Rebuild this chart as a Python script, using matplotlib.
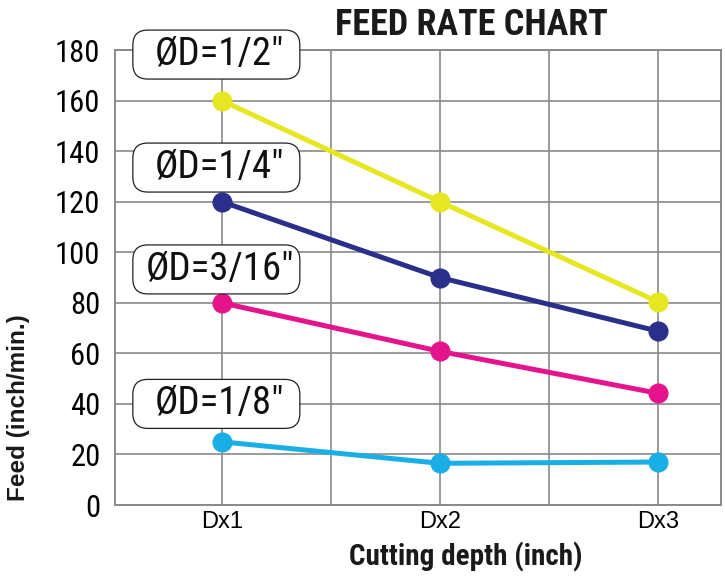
import matplotlib
matplotlib.use("Agg")
import matplotlib.pyplot as plt
from matplotlib.patches import FancyBboxPatch
from matplotlib.transforms import ScaledTranslation

# Data
depths = ["Dx1", "Dx2", "Dx3"]
feed_half = [160, 120, 80.4]
feed_quarter = [120, 90, 68.8]
feed_3_16 = [80, 60.8, 44.2]
feed_eighth = [25, 16.5, 17]

labels = ['ØD=1/2"', 'ØD=1/4"', 'ØD=3/16"', 'ØD=1/8"']
y_ticks = [0, 20, 40, 60, 80, 100, 120, 140, 160, 180]

# Styling
colors = ["#E6E622", "#2B2F8C", "#E6148C", "#19AFE6"]
label_pos = [(-0.025, 178.2), (-0.025, 133.5), (-0.025, 93.2), (-0.025, 40.0)]
grid_color = "#8A8A8A"
narrow = ["Roboto Condensed", "DejaVu Sans"]
regular = ["Liberation Sans", "DejaVu Sans"]

fig = plt.figure(figsize=(7.25, 5.79), dpi=100)
ax = fig.add_axes([0.1586, 0.1278, 0.8359, 0.7858])

series = [feed_half, feed_quarter, feed_3_16, feed_eighth]
xs = list(range(len(depths)))
for vals, c in zip(series, colors):
    ax.plot(xs, vals, color=c, lw=3.6, marker="o", ms=13.5, zorder=3,
            solid_capstyle="round")

ax.set_xlim(-0.49, 2.29)
ax.set_ylim(0, 180)
ax.set_xticks(xs)
ax.set_xticklabels(depths, family=regular, fontsize=17)
ax.set_xticks([0.5, 1.5], minor=True)
ax.set_yticks(y_ticks)
ax.set_yticklabels([str(v) for v in y_ticks], family=narrow, fontsize=22)
ax.tick_params(axis="both", which="both", length=0)
ax.tick_params(axis="x", pad=4)
ax.tick_params(axis="y", pad=10.5)

ax.grid(True, which="both", color=grid_color, lw=1.2, zorder=0)
ax.set_axisbelow(True)
for sp in ax.spines.values():
    sp.set_color(grid_color)
    sp.set_linewidth(1.4)

# Rounded label boxes (fixed size in inches)
box_w, box_h = 1.67, 0.49
for (lx, ly), txt in zip(label_pos, labels):
    tr = fig.dpi_scale_trans + ScaledTranslation(lx, ly, ax.transData)
    box = FancyBboxPatch((-box_w / 2, -box_h / 2), box_w, box_h,
                         boxstyle="round,pad=0,rounding_size=0.15",
                         transform=tr, facecolor="white", edgecolor="#222222",
                         lw=0.9, clip_on=False, zorder=4)
    ax.add_patch(box)
    ax.text(lx + 0.015, ly, txt, family=narrow, weight="normal", fontsize=28,
            color="#111111", ha="center", va="center", zorder=5, clip_on=False)

fig.text(471.5 / 725, 1 - 35 / 579, "FEED RATE CHART", family=narrow,
         weight="bold", fontsize=26, ha="center", va="baseline", color="#1a1a1a")
fig.text(466 / 725, 1 - 565 / 579, "Cutting depth (inch)", family=narrow,
         weight="bold", fontsize=21, ha="center", va="baseline", color="#1a1a1a")
fig.text(19 / 725, 1 - 408 / 579, "Feed (inch/min.)", family=regular,
         weight="bold", fontsize=17.5, rotation=90, ha="center", va="center",
         color="#1a1a1a")

fig.savefig("out.png", dpi=100)
